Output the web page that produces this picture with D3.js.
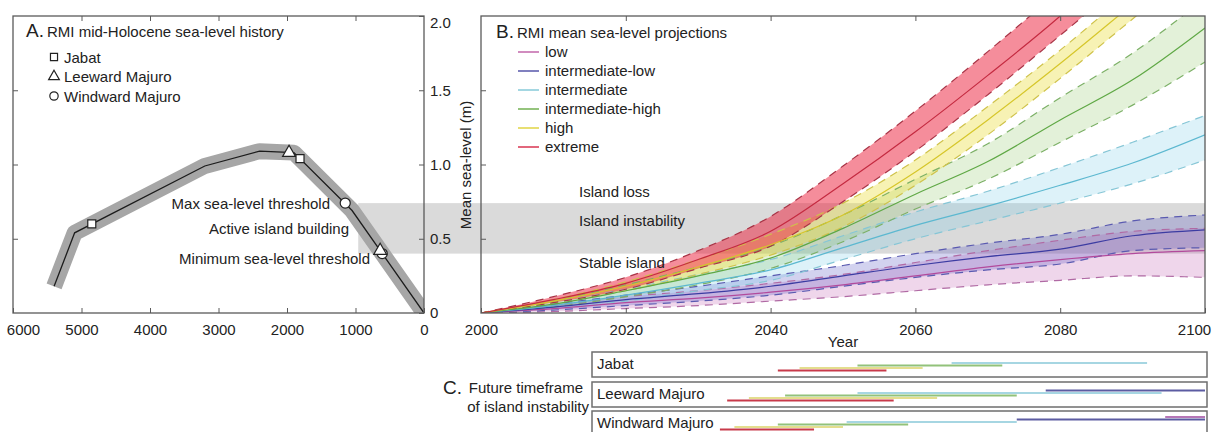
<!DOCTYPE html>
<html>
<head>
<meta charset="utf-8">
<script src="https://cdn.jsdelivr.net/npm/d3@7"></script>
<style>
  body { margin: 0; background: #fff; }
  svg { display: block; font-family: "Liberation Sans", Arial, Helvetica, sans-serif; }
</style>
</head>
<body>
<svg id="chart" width="1214" height="432"></svg>
<script>
// ---------- Panel A: mid-Holocene sea-level history (years BP, metres) ----------
const holoceneYears  = [5400, 5100, 3200, 2400, 1900, 1050, 0];
const holoceneLevels = [0.18, 0.54, 0.99, 1.09, 1.08, 0.69, 0.00];
const jabatYears     = [4850, 1810];
const jabatLevels    = [0.60, 1.04];
const leewardYears   = [1970, 640];
const leewardLevels  = [1.08, 0.42];
const windwardYears  = [1150, 610];
const windwardLevels = [0.74, 0.40];
const holoceneTicks  = [6000, 5000, 4000, 3000, 2000, 1000, 0];

// Island-stability thresholds (m) and where the shaded zone starts (years BP)
const thresholdMin = 0.40;
const thresholdMax = 0.74;
const thresholdStartBP = 960;

// ---------- Panel B: RMI mean sea-level projections ----------
const projYears = [2000, 2010, 2020, 2030, 2040, 2050, 2060, 2070, 2080, 2090, 2100];
const scenarioNames = ["low", "intermediate-low", "intermediate", "intermediate-high", "high", "extreme"];

const lowMed  = [0, 0.03, 0.07, 0.10, 0.14, 0.19, 0.25, 0.31, 0.36, 0.40, 0.42];
const lowLo   = [0, 0.01, 0.03, 0.05, 0.08, 0.11, 0.15, 0.19, 0.22, 0.25, 0.24];
const lowHi   = [0, 0.05, 0.11, 0.15, 0.20, 0.26, 0.34, 0.42, 0.49, 0.55, 0.57];

const intLowMed = [0, 0.04, 0.09, 0.13, 0.18, 0.25, 0.32, 0.38, 0.43, 0.52, 0.56];
const intLowLo  = [0, 0.02, 0.05, 0.08, 0.12, 0.18, 0.24, 0.29, 0.33, 0.42, 0.44];
const intLowHi  = [0, 0.06, 0.12, 0.18, 0.25, 0.32, 0.40, 0.47, 0.53, 0.62, 0.66];

const intMed = [0, 0.05, 0.12, 0.20, 0.29, 0.44, 0.59, 0.72, 0.86, 1.01, 1.20];
const intLo  = [0, 0.03, 0.08, 0.15, 0.22, 0.36, 0.50, 0.62, 0.74, 0.87, 1.03];
const intHi  = [0, 0.07, 0.16, 0.26, 0.36, 0.52, 0.68, 0.82, 0.98, 1.15, 1.33];

const intHighMed = [0, 0.06, 0.15, 0.25, 0.37, 0.57, 0.80, 1.02, 1.30, 1.57, 1.92];
const intHighLo  = [0, 0.04, 0.11, 0.19, 0.30, 0.48, 0.70, 0.90, 1.15, 1.40, 1.69];
const intHighHi  = [0, 0.08, 0.19, 0.31, 0.45, 0.66, 0.90, 1.14, 1.45, 1.75, 2.12];

const highMed = [0, 0.08, 0.18, 0.31, 0.46, 0.66, 0.95, 1.30, 1.68, 2.08, 2.48];
const highLo  = [0, 0.07, 0.15, 0.26, 0.39, 0.58, 0.86, 1.20, 1.58, 1.98, 2.38];
const highHi  = [0, 0.09, 0.21, 0.36, 0.53, 0.74, 1.03, 1.39, 1.77, 2.18, 2.58];

const extremeMed = [0, 0.09, 0.20, 0.36, 0.55, 0.87, 1.22, 1.60, 2.00, 2.45, 2.90];
const extremeLo  = [0, 0.07, 0.16, 0.30, 0.45, 0.75, 1.09, 1.47, 1.87, 2.28, 2.70];
const extremeHi  = [0, 0.11, 0.24, 0.42, 0.65, 0.99, 1.36, 1.76, 2.18, 2.65, 3.12];

const yearTicks  = [2000, 2020, 2040, 2060, 2080, 2100];
const levelTicks = [0, 0.5, 1.0, 1.5, 2.0];

// ---------- Panel C: years of island instability per site ----------
const siteNames = ["Jabat", "Leeward Majuro", "Windward Majuro"];
const jabatScen   = ["intermediate", "intermediate-high", "high", "extreme"];
const jabatStart  = [2065, 2052, 2044, 2041];
const jabatEnd    = [2092, 2072, 2061, 2056];
const leewardScen  = ["intermediate-low", "intermediate", "intermediate-high", "high", "extreme"];
const leewardStart = [2078, 2052, 2042, 2037, 2034];
const leewardEnd   = [2100, 2094, 2074, 2063, 2057];
const windwardScen  = ["low", "intermediate-low", "intermediate", "intermediate-high", "high", "extreme"];
const windwardStart = [2094.5, 2074, 2050.5, 2041, 2035, 2033];
const windwardEnd   = [2100, 2100, 2074, 2059, 2050, 2046];

// ---------- styling ----------
const ink = "#222";
const frameInk = "#5a5a5a";
const style = {
  "low":               { fill: "#c060b0", op: 0.26, line: "#b24a9c", dash: "#b06aa4", legend: "#c266aa", bar: "#b676b6" },
  "intermediate-low":  { fill: "#5050c0", op: 0.26, line: "#3c3ca2", dash: "#5a5ab0", legend: "#5656aa", bar: "#5c5ca2" },
  "intermediate":      { fill: "#70c8e8", op: 0.24, line: "#5cb8d0", dash: "#86c6d6", legend: "#86cad8", bar: "#a6d6e2" },
  "intermediate-high": { fill: "#80c050", op: 0.22, line: "#5fa845", dash: "#7cb066", legend: "#72b052", bar: "#92c27a" },
  "high":              { fill: "#e8dc30", op: 0.36, line: "#d6c62a", dash: "#cfc24a", legend: "#e0d444", bar: "#e4de8e" },
  "extreme":           { fill: "#ec2440", op: 0.52, line: "#c42a40", dash: "#a83446", legend: "#d83450", bar: "#c83a4a" }
};

const svg = d3.select("#chart");

const xA = d3.scaleLinear().domain([6000, 0]).range([13, 424]);
const xB = d3.scaleLinear().domain([2000, 2100]).range([481, 1205]);
const y  = d3.scaleLinear().domain([0, 2]).range([313, 16]);

const defs = svg.append("defs");
defs.append("clipPath").attr("id", "clipA").append("rect")
  .attr("x", xA(6000)).attr("y", y(2)).attr("width", xA(0) - xA(6000)).attr("height", y(0) - y(2));
defs.append("clipPath").attr("id", "clipB").append("rect")
  .attr("x", xB(2000)).attr("y", y(2)).attr("width", xB(2100) - xB(2000)).attr("height", y(0) - y(2));

// Shaded instability zone spanning both panels
svg.append("rect")
  .attr("x", xA(thresholdStartBP)).attr("y", y(thresholdMax))
  .attr("width", xB(2100) - xA(thresholdStartBP))
  .attr("height", y(thresholdMin) - y(thresholdMax))
  .attr("fill", "#dadada");

// ---------- Panel A drawing ----------
const gA = svg.append("g").attr("clip-path", "url(#clipA)");
const holo = holoceneYears.map((t, i) => [xA(t), y(holoceneLevels[i])]);
gA.append("path").attr("d", d3.line()(holo))
  .attr("fill", "none").attr("stroke", "#a6a6a6").attr("stroke-width", 16)
  .attr("stroke-linejoin", "round");
gA.append("path").attr("d", d3.line()(holo))
  .attr("fill", "none").attr("stroke", "#1c1c1c").attr("stroke-width", 1.3);

const sym = {
  square: d3.symbol(d3.symbolSquare, 64)(),
  triangle: d3.symbol(d3.symbolTriangle, 72)(),
  circle: d3.symbol(d3.symbolCircle, 80)()
};
function markers(years, levels, shape) {
  years.forEach((t, i) => {
    gA.append("path").attr("d", sym[shape])
      .attr("transform", `translate(${xA(t)},${y(levels[i])})`)
      .attr("fill", "#fff").attr("stroke", "#222").attr("stroke-width", 1.2);
  });
}
markers(windwardYears, windwardLevels, "circle");
markers(leewardYears, leewardLevels, "triangle");
markers(jabatYears, jabatLevels, "square");

// ---------- Panel B drawing ----------
const gB = svg.append("g").attr("clip-path", "url(#clipB)");
const scenarioData = {
  "low": [lowLo, lowMed, lowHi],
  "intermediate-low": [intLowLo, intLowMed, intLowHi],
  "intermediate": [intLo, intMed, intHi],
  "intermediate-high": [intHighLo, intHighMed, intHighHi],
  "high": [highLo, highMed, highHi],
  "extreme": [extremeLo, extremeMed, extremeHi]
};
const rows = name => projYears.map((yr, i) => ({
  year: yr, lo: scenarioData[name][0][i], med: scenarioData[name][1][i], hi: scenarioData[name][2][i]
}));
const bandArea = d3.area().x(d => xB(d.year)).y0(d => y(d.lo)).y1(d => y(d.hi)).curve(d3.curveMonotoneX);
const lineOf = key => d3.line().x(d => xB(d.year)).y(d => y(d[key])).curve(d3.curveMonotoneX);

scenarioNames.forEach(name => {
  gB.append("path").attr("d", bandArea(rows(name)))
    .attr("fill", style[name].fill).attr("fill-opacity", style[name].op);
});
scenarioNames.forEach(name => {
  ["lo", "hi"].forEach(k => {
    gB.append("path").attr("d", lineOf(k)(rows(name)))
      .attr("fill", "none").attr("stroke", style[name].dash)
      .attr("stroke-width", 1.2).attr("stroke-dasharray", "8,6");
  });
});
scenarioNames.forEach(name => {
  gB.append("path").attr("d", lineOf("med")(rows(name)))
    .attr("fill", "none").attr("stroke", style[name].line).attr("stroke-width", 1.2);
});

// ---------- Axes and frames ----------
function tidy(g) {
  g.select(".domain").remove();
  g.selectAll(".tick line").attr("stroke", frameInk).attr("stroke-width", 1);
  g.selectAll(".tick text").attr("fill", ink).attr("font-size", 15);
}
const levelFmt = d => d === 0 ? "0" : d3.format(".1f")(d);

svg.append("g").attr("transform", `translate(0,${y(0)})`)
  .call(d3.axisBottom(xA).tickValues(holoceneTicks).tickSizeInner(-5).tickSizeOuter(0).tickPadding(11).tickFormat(d3.format("d")))
  .call(tidy)
  .call(g => g.selectAll(".tick text").filter(d => d === 6000).attr("dx", 10));
svg.append("g").attr("transform", `translate(0,${y(2)})`)
  .call(d3.axisTop(xA).tickValues(holoceneTicks.slice(1, -1)).tickSizeInner(-5).tickSizeOuter(0).tickFormat(""))
  .call(tidy);
svg.append("g").attr("transform", `translate(${xA(6000)},0)`)
  .call(d3.axisLeft(y).tickValues([0.5, 1.0, 1.5]).tickSizeInner(-5).tickSizeOuter(0).tickFormat(""))
  .call(tidy);
svg.append("g").attr("transform", `translate(${xA(0)},0)`)
  .call(d3.axisRight(y).tickValues(levelTicks).tickSizeInner(-5).tickSizeOuter(0).tickPadding(6).tickFormat(levelFmt))
  .call(tidy)
  .call(g => g.selectAll(".tick text").filter(d => d === 2).attr("dy", "0.75em"));

svg.append("g").attr("transform", `translate(0,${y(0)})`)
  .call(d3.axisBottom(xB).tickValues(yearTicks).tickSizeInner(-5).tickSizeOuter(0).tickPadding(11).tickFormat(d3.format("d")))
  .call(tidy)
  .call(g => g.selectAll(".tick text").filter(d => d === 2100).attr("dx", -11));
svg.append("g").attr("transform", `translate(0,${y(2)})`)
  .call(d3.axisTop(xB).tickValues(yearTicks.slice(1, -1)).tickSizeInner(-5).tickSizeOuter(0).tickFormat(""))
  .call(tidy);
svg.append("g").attr("transform", `translate(${xB(2000)},0)`)
  .call(d3.axisLeft(y).tickValues([0.5, 1.0, 1.5]).tickSizeInner(-5).tickSizeOuter(0).tickFormat(""))
  .call(tidy);

[[xA(6000), xA(0)], [xB(2000), xB(2100)]].forEach(([x0, x1]) => {
  svg.append("rect").attr("x", x0).attr("y", y(2)).attr("width", x1 - x0).attr("height", y(0) - y(2))
    .attr("fill", "none").attr("stroke", frameInk).attr("stroke-width", 1.3);
});

// ---------- Text ----------
function label(x, yy, txt, opts = {}) {
  return svg.append("text").attr("x", x).attr("y", yy).text(txt)
    .attr("fill", ink).attr("font-size", opts.size || 15)
    .attr("text-anchor", opts.anchor || "start");
}

label(471, 165, "Mean sea-level (m)", { anchor: "middle" })
  .attr("transform", "rotate(-90,471,165)");
label(843, 347, "Year", { anchor: "middle" });

// Panel A title and legend
label(26, 37, "A.", { size: 19 });
label(47, 37, "RMI mid-Holocene sea-level history");
const legendShapes = [d3.symbolSquare, d3.symbolTriangle, d3.symbolCircle];
["Jabat", "Leeward Majuro", "Windward Majuro"].forEach((txt, i) => {
  const yy = 57 + i * 19.5;
  svg.append("path").attr("d", d3.symbol(legendShapes[i], i === 2 ? 55 : 50)())
    .attr("transform", `translate(54,${yy})`)
    .attr("fill", "#fff").attr("stroke", "#222").attr("stroke-width", 1.2);
  label(64, yy + 5.5, txt);
});

label(330, 209, "Max sea-level threshold", { anchor: "end" });
label(349, 234, "Active island building", { anchor: "end" });
label(370, 264, "Minimum sea-level threshold", { anchor: "end" });

// Panel B title, legend, zone labels
label(496, 38, "B.", { size: 19 });
label(517, 38, "RMI mean sea-level projections");
scenarioNames.forEach((name, i) => {
  const yy = 52 + i * 19;
  svg.append("line").attr("x1", 518).attr("x2", 539).attr("y1", yy).attr("y2", yy)
    .attr("stroke", style[name].legend).attr("stroke-width", 1.5);
  label(545, yy + 5, name);
});
label(579, 197, "Island loss");
label(579, 226, "Island instability");
label(579, 268, "Stable island");

// ---------- Panel C ----------
label(443, 394, "C.", { size: 19 });
label(583, 393, "Future timeframe", { anchor: "end" });
label(589, 412, "of island instability", { anchor: "end" });

const siteTops = [352, 382, 411];
const siteBars = [
  [jabatScen, jabatStart, jabatEnd],
  [leewardScen, leewardStart, leewardEnd],
  [windwardScen, windwardStart, windwardEnd]
];
const rowOffset = d3.scalePoint().domain(scenarioNames).range([6, 18.5]);
siteNames.forEach((site, s) => {
  const top = siteTops[s];
  svg.append("rect").attr("x", 592).attr("y", top).attr("width", xB(2100) + 2 - 592).attr("height", 25)
    .attr("fill", "#fff").attr("stroke", "#6e6e6e").attr("stroke-width", 1.5);
  label(597, top + 17, site);
  const [scen, st, en] = siteBars[s];
  scen.forEach((name, i) => {
    svg.append("line")
      .attr("x1", xB(st[i])).attr("x2", xB(en[i]))
      .attr("y1", top + rowOffset(name)).attr("y2", top + rowOffset(name))
      .attr("stroke", style[name].bar).attr("stroke-width", 2);
  });
});
</script>
</body>
</html>
